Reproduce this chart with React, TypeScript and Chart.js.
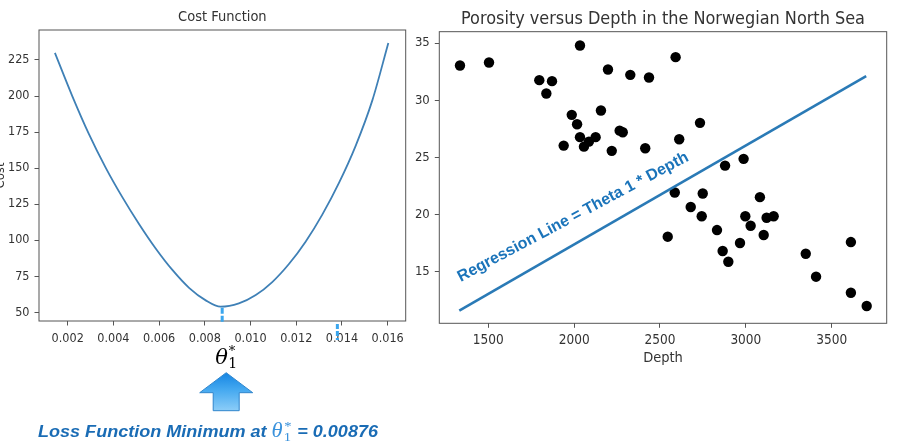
import React, { useEffect, useRef } from "react";
import { Chart, registerables } from "chart.js";
Chart.register(...registerables);

// ---------- data: cost function ----------
const thetaValues = [0.00144, 0.0022, 0.00293, 0.00366, 0.00439, 0.00512, 0.00585, 0.00658, 0.00731, 0.00804, 0.00869, 0.00949, 0.01023, 0.01095, 0.01168, 0.01241, 0.01314, 0.01387, 0.0146, 0.01533, 0.01603];
const costValues = [229.9, 200.0, 173.6, 150.4, 129.9, 111.3, 94.3, 79.4, 67.0, 58.3, 53.9, 56.2, 62.0, 71.0, 83.5, 99.0, 117.8, 139.8, 165.5, 197.0, 236.8];
const costXTicks = [0.002, 0.004, 0.006, 0.008, 0.01, 0.012, 0.014, 0.016];
const costYTicks = [50, 75, 100, 125, 150, 175, 200, 225];
const thetaStar = 0.00876;
const secondMark = 0.0138;

// ---------- data: porosity vs depth ----------
const depthValues = [1335, 1504, 2034, 2591, 2197, 2327, 2436, 1797, 1871, 1838, 2156, 1986, 2017, 2733, 2265, 2283, 2034, 2125, 2086, 2057, 1939, 2219, 2414, 2612, 2987, 2879, 2586, 2749, 3082, 2679, 2743, 2997, 3121, 3162, 3028, 2545, 2832, 3104, 2966, 2865, 2898, 3612, 3349, 3409, 3612, 3704];
const porosityValues = [33.04, 33.3, 34.79, 33.77, 32.69, 32.22, 31.99, 31.76, 31.67, 30.59, 29.1, 28.72, 27.9, 28.02, 27.34, 27.2, 26.77, 26.77, 26.38, 25.94, 26.03, 25.57, 25.8, 26.59, 24.87, 24.28, 21.93, 21.84, 21.52, 20.66, 19.85, 19.85, 19.72, 19.85, 19.02, 18.06, 18.64, 18.21, 17.51, 16.81, 15.87, 17.59, 16.57, 14.56, 13.15, 11.99];
const lineDepth = [1331, 3701];
const linePorosity = [11.6, 32.1];
const depthTicks = [1500, 2000, 2500, 3000, 3500];
const porosityTicks = [15, 20, 25, 30, 35];
const labelAnchor = [1339, 14.1];

const COND = "'DejaVu Sans Condensed', 'DejaVu Sans', sans-serif";
const SPINE = "#555";
const TICKTXT = "#333";

const boxPlugin = {
  id: "box",
  afterDraw(chart: any) {
    const { ctx, chartArea } = chart;
    const { left, top, right, bottom } = chartArea;
    ctx.save();
    ctx.strokeStyle = SPINE;
    ctx.lineWidth = 1;
    ctx.strokeRect(left, top, right - left, bottom - top);
    ctx.restore();
  },
};

const leftAnnot = {
  id: "leftAnnot",
  afterDraw(chart: any) {
    const { ctx, chartArea } = chart;
    const xs = chart.scales.x;
    const ys = chart.scales.y;
    const xm = xs.getPixelForValue(thetaStar);
    const yMin = ys.getPixelForValue(Math.min(...costValues));
    const b = chartArea.bottom;
    ctx.save();
    // blue marks
    ctx.strokeStyle = "#3aa6ee";
    ctx.lineWidth = 3;
    ctx.setLineDash([6, 2]);
    ctx.beginPath();
    ctx.moveTo(xm, yMin + 1);
    ctx.lineTo(xm, b + 2);
    ctx.stroke();
    const x2 = xs.getPixelForValue(secondMark);
    ctx.setLineDash([5, 2]);
    ctx.beginPath();
    ctx.moveTo(x2, b + 3);
    ctx.lineTo(x2, b + 19);
    ctx.stroke();
    ctx.setLineDash([]);

    // theta label under axis
    const tx = xm - 7;
    ctx.fillStyle = "#000";
    ctx.textBaseline = "alphabetic";
    ctx.textAlign = "left";
    ctx.font = "italic 21px 'DejaVu Serif', serif";
    ctx.fillText("θ", tx, b + 42.5);
    const tw = ctx.measureText("θ").width;
    ctx.font = "14px 'DejaVu Serif', serif";
    ctx.fillText("1", tx + tw + 0.5, b + 46.5);
    ctx.font = "13px 'DejaVu Serif', serif";
    ctx.fillText("*", tx + tw + 1, b + 34);

    // arrow
    const cx = xm + 4;
    const tipY = b + 51.7;
    const headY = b + 71.7;
    const botY = b + 89.7;
    const headHalf = 26.5;
    const shaftHalf = 13;
    const g = ctx.createLinearGradient(0, tipY, 0, botY);
    g.addColorStop(0, "#1585e3");
    g.addColorStop(0.45, "#45a9f0");
    g.addColorStop(1, "#8ccdf8");
    ctx.fillStyle = g;
    ctx.strokeStyle = "#3086cc";
    ctx.lineWidth = 1;
    ctx.beginPath();
    ctx.moveTo(cx, tipY);
    ctx.lineTo(cx + headHalf, headY);
    ctx.lineTo(cx + shaftHalf, headY);
    ctx.lineTo(cx + shaftHalf, botY);
    ctx.lineTo(cx - shaftHalf, botY);
    ctx.lineTo(cx - shaftHalf, headY);
    ctx.lineTo(cx - headHalf, headY);
    ctx.closePath();
    ctx.fill();
    ctx.stroke();

    // caption
    const capX = 38;
    const capY = 436.7;
    const targetW = 340;
    const fSans = "italic bold 16px 'Liberation Sans', Arial, sans-serif";
    const fTh = "italic 20px 'Liberation Serif', serif";
    const fSm = "13px 'Liberation Serif', serif";
    const t1 = "Loss Function Minimum at ";
    const t2 = " = 0.00876";
    ctx.font = fSans;
    const w1 = ctx.measureText(t1).width;
    const w2 = ctx.measureText(t2).width;
    ctx.font = fTh;
    const wth = ctx.measureText("θ").width;
    ctx.font = fSm;
    const wsub = ctx.measureText("1").width;
    const total = w1 + wth + wsub + 2 + w2;
    const sx = targetW / total;
    ctx.translate(capX, capY);
    ctx.scale(sx, 1);
    let x = 0;
    ctx.fillStyle = "#1a6cb5";
    ctx.font = fSans;
    ctx.fillText(t1, x, 0);
    x += w1;
    ctx.fillStyle = "#3a92dc";
    ctx.font = fTh;
    ctx.fillText("θ", x, 0);
    x += wth;
    ctx.font = fSm;
    ctx.fillText("1", x + 1, 4);
    ctx.fillText("*", x + 1.5, -7);
    x += wsub + 2;
    ctx.fillStyle = "#1a6cb5";
    ctx.font = fSans;
    ctx.fillText(t2, x, 0);
    ctx.restore();
  },
};

const rightAnnot = {
  id: "rightAnnot",
  afterDraw(chart: any) {
    const { ctx } = chart;
    const x = chart.scales.x.getPixelForValue(labelAnchor[0]);
    const y = chart.scales.y.getPixelForValue(labelAnchor[1]);
    ctx.save();
    ctx.translate(x, y);
    ctx.rotate((-28 * Math.PI) / 180);
    ctx.font = "bold 16px 'Liberation Sans', Arial, sans-serif";
    ctx.fillStyle = "#1b74ba";
    ctx.textBaseline = "alphabetic";
    ctx.textAlign = "left";
    ctx.fillText("Regression Line = Theta 1 * Depth", 0, 0);
    ctx.restore();
  },
};

function tickAxis(extra: any) {
  return {
    type: "linear",
    grid: { drawOnChartArea: false, drawTicks: true, tickLength: 4.5, color: SPINE },
    border: { display: false },
    ...extra,
  };
}

export default function App() {
  const leftRef = useRef<HTMLCanvasElement | null>(null);
  const rightRef = useRef<HTMLCanvasElement | null>(null);

  useEffect(() => {
    document.body.style.margin = "0";
    const left = new Chart(leftRef.current as HTMLCanvasElement, {
      type: "scatter",
      data: {
        datasets: [
          {
            data: thetaValues.map((t, i) => ({ x: t, y: costValues[i] })),
            showLine: true,
            borderColor: "#3f80b6",
            borderWidth: 1.8,
            pointRadius: 0,
            cubicInterpolationMode: "monotone",
          } as any,
        ],
      },
      options: {
        animation: false,
        responsive: false,
        events: [],
        layout: { padding: { left: 0, right: 14.3, top: 0, bottom: 0 } },
        plugins: {
          legend: { display: false },
          tooltip: { enabled: false },
          title: {
            display: true,
            text: "Cost Function",
            fullSize: false,
            color: TICKTXT,
            font: { family: COND, size: 14.5, weight: "normal" },
            padding: { top: 9, bottom: 3.6 },
          },
        },
        scales: {
          x: tickAxis({
            min: 0.000744,
            max: 0.01679,
            afterFit: (s: any) => { s.height = 126; },
            afterBuildTicks: (s: any) => { s.ticks = costXTicks.map((v) => ({ value: v })); },
            ticks: {
              callback: (v: any) => Number(v).toFixed(3),
              font: { family: COND, size: 12.5 },
              color: TICKTXT,
              padding: 5.5,
              maxRotation: 0,
              autoSkip: false,
            },
          }),
          y: tickAxis({
            min: 44,
            max: 245.8,
            afterFit: (s: any) => { s.width = 39; },
            afterBuildTicks: (s: any) => { s.ticks = costYTicks.map((v) => ({ value: v })); },
            ticks: { font: { family: COND, size: 12.5 }, color: TICKTXT, padding: 5, autoSkip: false },
            title: {
              display: true,
              text: "Cost",
              color: TICKTXT,
              font: { family: COND, size: 13 },
              padding: { top: -6.8, bottom: 0 },
            },
          }),
        },
      } as any,
      plugins: [boxPlugin, leftAnnot],
    });

    const right = new Chart(rightRef.current as HTMLCanvasElement, {
      type: "scatter",
      data: {
        datasets: [
          {
            data: lineDepth.map((d, i) => ({ x: d, y: linePorosity[i] })),
            showLine: true,
            borderColor: "#2a7ab6",
            borderWidth: 2.6,
            pointRadius: 0,
          } as any,
          {
            data: depthValues.map((d, i) => ({ x: d, y: porosityValues[i] })),
            backgroundColor: "#000",
            borderWidth: 0,
            pointRadius: 5.2,
          } as any,
        ],
      },
      options: {
        animation: false,
        responsive: false,
        events: [],
        layout: { padding: { left: 0, right: 13.3, top: 0, bottom: 0 } },
        plugins: {
          legend: { display: false },
          tooltip: { enabled: false },
          title: {
            display: true,
            text: "Porosity versus Depth in the Norwegian North Sea",
            fullSize: false,
            color: TICKTXT,
            font: { family: COND, size: 17.9, weight: "normal" },
            padding: { top: 8.6, bottom: 1.6 },
          },
        },
        scales: {
          x: tickAxis({
            min: 1214.5,
            max: 3820.5,
            afterFit: (s: any) => { s.height = 123.7; },
            afterBuildTicks: (s: any) => { s.ticks = depthTicks.map((v) => ({ value: v })); },
            ticks: {
              callback: (v: any) => String(v),
              font: { family: COND, size: 13.5 },
              color: TICKTXT,
              padding: 4.5,
              maxRotation: 0,
              autoSkip: false,
            },
            title: {
              display: true,
              text: "Depth",
              color: TICKTXT,
              font: { family: COND, size: 14.5 },
              padding: { top: 0, bottom: 80 },
            },
          }),
          y: tickAxis({
            min: 10.48,
            max: 36.0,
            afterFit: (s: any) => { s.width = 44.3; },
            afterBuildTicks: (s: any) => { s.ticks = porosityTicks.map((v) => ({ value: v })); },
            ticks: { callback: (v: any) => String(v), font: { family: COND, size: 13 }, color: TICKTXT, padding: 5, autoSkip: false },
          }),
        },
      } as any,
      plugins: [boxPlugin, rightAnnot],
    });

    return () => {
      left.destroy();
      right.destroy();
    };
  }, []);

  return (
    <div style={{ position: "absolute", left: 0, top: 0, width: 900, height: 447, background: "#fff", overflow: "hidden" }}>
      <canvas ref={leftRef} width={420} height={447} style={{ position: "absolute", left: 0, top: 0, width: 420, height: 447 }} />
      <canvas ref={rightRef} width={505} height={447} style={{ position: "absolute", left: 395, top: 0, width: 505, height: 447 }} />
    </div>
  );
}
